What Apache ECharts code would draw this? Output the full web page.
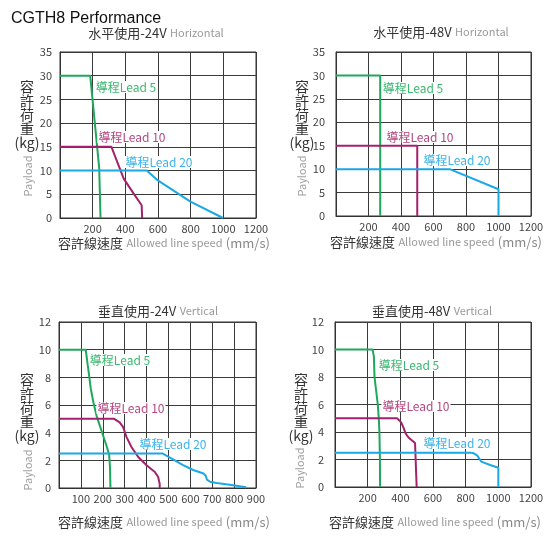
<!DOCTYPE html>
<html>
<head>
<meta charset="utf-8">
<script src="https://cdn.jsdelivr.net/npm/echarts@6/dist/echarts.min.js"></script>
<style>
  html, body { margin: 0; padding: 0; background: #fff; }
  #chart { width: 560px; height: 542px; }
</style>
</head>
<body>
<div id="chart"></div>
<script>
// 各面板曲線 [速度 mm/s, 荷重 kg]
const h24Lead5 = [[0, 30], [185, 30], [240, 10.5], [248, 0]]
const h24Lead10 = [[0, 15], [315, 15], [335, 13.2], [390, 8.3], [450, 5.2], [500, 2.7], [503, 0]]
const h24Lead20 = [[0, 10], [531, 10], [592, 8.1], [796, 3.5], [998, 0]]

const h48Lead5 = [[0, 30], [272, 30], [272, 0]]
const h48Lead10 = [[0, 15], [500, 15], [500, 0]]
const h48Lead20 = [[0, 10], [700, 10], [1000, 5.7], [1000, 0]]

const v24Lead5 = [[0, 10], [122, 10], [133, 8.7], [145, 7.2], [157, 6.2], [172, 5.2], [195, 4.1], [218, 3.0], [229, 2.4], [233, 1.5], [235, 0]]
const v24Lead10 = [[0, 5], [252, 5], [277, 4.75], [293, 4.4], [308, 3.7], [331, 2.96], [362, 2.24], [400, 1.64], [438, 1.16], [453, 0.8], [460, 0.3], [460, 0]]
const v24Lead20 = [[0, 2.5], [472, 2.5], [507, 2.2], [567, 1.65], [613, 1.3], [660, 1.05], [670, 0.9], [676, 0.6], [690, 0.45], [720, 0.36], [780, 0.24], [855, 0.05]]

const v48Lead5 = [[0, 10], [230, 10], [238, 9.5], [242, 8], [252, 7], [262, 6], [268, 5], [272, 4], [275, 2], [276, 0]]
const v48Lead10 = [[0, 5], [380, 5], [405, 4.7], [420, 4.3], [432, 3.9], [450, 3.6], [490, 3.2], [500, 3.15], [500, 0]]
const v48Lead20 = [[0, 2.5], [830, 2.5], [850, 2.45], [870, 2.3], [895, 1.85], [950, 1.6], [1000, 1.4], [1000, 0]]

const panelTitles = ['水平使用-24V', '水平使用-48V', '垂直使用-24V', '垂直使用-48V']
const panelSubTitles = ['Horizontal', 'Horizontal', 'Vertical', 'Vertical']
const leadNames = ['導程Lead 5', '導程Lead 10', '導程Lead 20']
const xMax = [1200, 1200, 900, 1200]
const xStep = [200, 200, 100, 200]
const yMax = [35, 35, 12, 12]
const yStep = [5, 5, 2, 2]

const lineColors = ['#1ea85c', '#a2236b', '#1aa8e6']
const labelColors = ['#3cb870', '#b5487f', '#3db4ea']
const FONT = '"Noto Sans CJK TC", "Noto Sans", sans-serif'

const panelData = [
  [h24Lead5, h24Lead10, h24Lead20],
  [h48Lead5, h48Lead10, h48Lead20],
  [v24Lead5, v24Lead10, v24Lead20],
  [v48Lead5, v48Lead10, v48Lead20]
]

// 版面位置
const grids = [
  { left: 60, top: 52, width: 196, height: 166 },
  { left: 336, top: 52, width: 195, height: 164 },
  { left: 59, top: 322, width: 197, height: 166 },
  { left: 335, top: 322, width: 196, height: 165 }
]
const titlePos = [[156, 33], [441, 32], [158, 311], [432, 311]]
const xNamePos = [[164, 243], [436, 242], [164, 522], [435, 522]]
const yNamePos = [[27, 80], [302, 80], [27, 373], [301, 373]]
const payloadPos = [[28, 176], [302, 176], [28, 470], [300, 468]]
const labelPos = [
  [[126, 87], [132, 137], [159, 162]],
  [[413, 88], [420, 137], [457, 160]],
  [[120, 360], [131, 408], [173, 444]],
  [[409, 365], [416, 406], [457, 443]]
]

function makeOption() {
  const xAxis = []
  const yAxis = []
  const series = []
  const graphic = []
  grids.forEach((g, i) => {
    xAxis.push({
      type: 'value',
      gridIndex: i,
      min: 0,
      max: xMax[i],
      interval: xStep[i],
      axisLine: { show: true, lineStyle: { color: '#333', width: 1 } },
      axisTick: { show: false },
      axisLabel: { showMinLabel: false, color: '#444', fontSize: 11, fontFamily: FONT, margin: 5, formatter: v => String(v) },
      splitLine: { show: true, lineStyle: { color: '#3a3a3a', width: 1 } }
    })
    yAxis.push({
      type: 'value',
      gridIndex: i,
      min: 0,
      max: yMax[i],
      interval: yStep[i],
      axisLine: { show: true, lineStyle: { color: '#333', width: 1 } },
      axisTick: { show: false },
      axisLabel: { color: '#444', fontSize: 11, fontFamily: FONT, margin: i % 2 ? 11 : 8, formatter: v => String(v) },
      splitLine: { show: true, lineStyle: { color: '#3a3a3a', width: 1 } }
    })
    panelData[i].forEach((d, k) => {
      series.push({
        type: 'line',
        name: leadNames[k],
        xAxisIndex: i,
        yAxisIndex: i,
        data: d,
        showSymbol: false,
        silent: true,
        z: 3 + k,
        lineStyle: { color: lineColors[k], width: 2 }
      })
      graphic.push({
        type: 'text',
        x: labelPos[i][k][0],
        y: labelPos[i][k][1],
        z: 100,
        style: {
          text: leadNames[k],
          fill: labelColors[k],
          fontSize: 12,
          fontFamily: FONT,
          align: 'center',
          verticalAlign: 'middle',
          backgroundColor: '#fff',
          padding: [0, 1]
        }
      })
    })
    graphic.push({
      type: 'text',
      x: titlePos[i][0],
      y: titlePos[i][1],
      style: {
        text: '{a|' + panelTitles[i] + '} {b|' + panelSubTitles[i] + '}',
        align: 'center',
        verticalAlign: 'middle',
        rich: {
          a: { fontSize: 13, fill: '#333', fontFamily: FONT },
          b: { fontSize: 11, fill: '#9a9a9a', fontFamily: FONT }
        }
      }
    })
    graphic.push({
      type: 'text',
      x: xNamePos[i][0],
      y: xNamePos[i][1],
      style: {
        text: '{a|容許線速度} {b|Allowed line speed} {c|(mm/s)}',
        align: 'center',
        verticalAlign: 'middle',
        rich: {
          a: { fontSize: 13, fill: '#333', fontFamily: FONT },
          b: { fontSize: 11, fill: '#9a9a9a', fontFamily: FONT },
          c: { fontSize: 13, fill: '#888', fontFamily: FONT }
        }
      }
    })
    graphic.push({
      type: 'text',
      x: yNamePos[i][0],
      y: yNamePos[i][1],
      style: {
        text: '容\n許\n荷\n重\n(kg)',
        fontSize: 14,
        lineHeight: 14,
        fill: '#333',
        fontFamily: FONT,
        align: 'center',
        verticalAlign: 'top'
      }
    })
    graphic.push({
      type: 'text',
      x: payloadPos[i][0],
      y: payloadPos[i][1],
      rotation: Math.PI / 2,
      style: {
        text: 'Payload',
        fontSize: 11,
        fill: '#a0a0a0',
        fontFamily: FONT,
        align: 'center',
        verticalAlign: 'middle'
      }
    })
  })
  return {
    backgroundColor: '#fff',
    animation: false,
    title: {
      text: 'CGTH8 Performance',
      left: 6,
      top: 6,
      textStyle: { fontSize: 16, fontWeight: 'normal', color: '#111', fontFamily: '"Liberation Sans", Arial, sans-serif' }
    },
    grid: grids.map(g => Object.assign({ show: true, borderColor: '#333', borderWidth: 1, backgroundColor: '#fff' }, g)),
    xAxis,
    yAxis,
    series,
    graphic
  }
}

const myChart = echarts.init(document.getElementById('chart'))
myChart.setOption(makeOption())
</script>
</body>
</html>
